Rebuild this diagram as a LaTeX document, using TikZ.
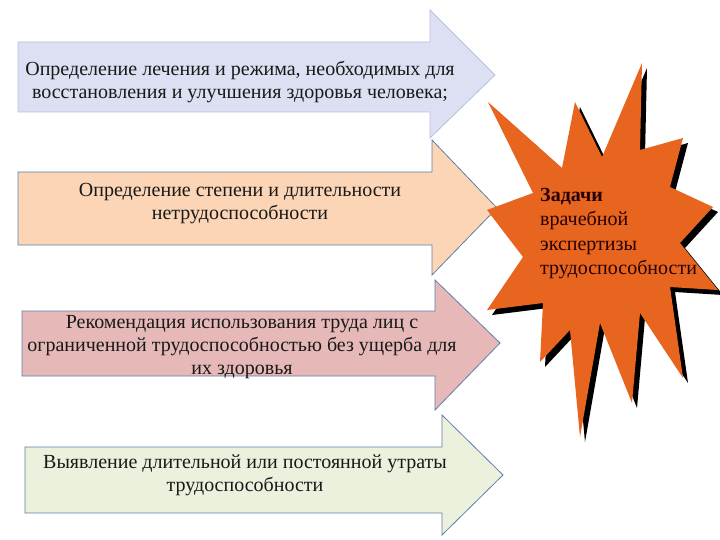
\documentclass[tikz,border=0pt]{standalone}
\usepackage{fontspec}
\setmainfont{Liberation Serif}
\begin{document}
\begin{tikzpicture}[x=1pt,y=-1pt,
  arr/.style={draw=#1, line width=0.8pt, line join=miter},
  txt/.style={align=center, font=\fontsize{20}{23}\selectfont, text=black!90}]
\useasboundingbox (0,0) rectangle (720,540);
\definecolor{c1}{HTML}{DCE0F2}
\definecolor{c2}{HTML}{FBD5B5}
\definecolor{c3}{HTML}{E6B9B8}
\definecolor{c4}{HTML}{EBF1DD}
\definecolor{starc}{HTML}{E8651F}
\definecolor{b1}{HTML}{B8C0DC}
\definecolor{b2}{HTML}{5F7FA8}
% arrows
\filldraw[fill=c1,arr=b1] (18,42) -- (430,42) -- (430,10) -- (495,75) -- (430,138) -- (430,112) -- (18,112) -- cycle;
\node[txt] (t1) at (240,82) {Определение лечения и режима, необходимых для\\восстановления и улучшения здоровья человека;};
\filldraw[fill=c2,arr=b2] (18,172) -- (432,172) -- (432,140) -- (497,208) -- (432,275) -- (432,245) -- (18,245) -- cycle;
\node[txt] (t2) at (240,204) {Определение степени и длительности\\нетрудоспособности};
\filldraw[fill=c3,arr=b2] (22,311) -- (435,311) -- (435,280) -- (500,343) -- (435,410) -- (435,376) -- (22,376) -- cycle;
\node[txt] (t3) at (242,347) {Рекомендация использования труда лиц с\\ограниченной трудоспособностью без ущерба для\\их здоровья};
\filldraw[fill=c4,arr=b2] (25,447) -- (442,447) -- (442,415) -- (503,475) -- (442,535) -- (442,513) -- (25,513) -- cycle;
\node[txt] (t4) at (245,475) {Выявление длительной или постоянной утраты\\трудоспособности};
% star
\def\starpath{(642,63) -- (640,150) -- (683,138) -- (670,187) -- (713,207) -- (680,243) -- (718,290) -- (670,287) -- (683,378) -- (640,313) -- (632,403) -- (600,323) -- (580,437) -- (570,330) -- (540,362) -- (543,303) -- (487,310) -- (523,257) -- (487,210) -- (533,193) -- (488,102) -- (562,168) -- (575,102) -- (602,157) -- cycle}
\fill[black,shift={(5,5)}] \starpath;
\fill[starc] \starpath;
\node[anchor=north west, align=left, inner sep=0pt, font=\fontsize{20}{24.5}\selectfont, text=black!85!red] (st) at (540,188) {\textbf{Задачи}\\врачебной\\экспертизы\\трудоспособности};
\end{tikzpicture}
\end{document}
